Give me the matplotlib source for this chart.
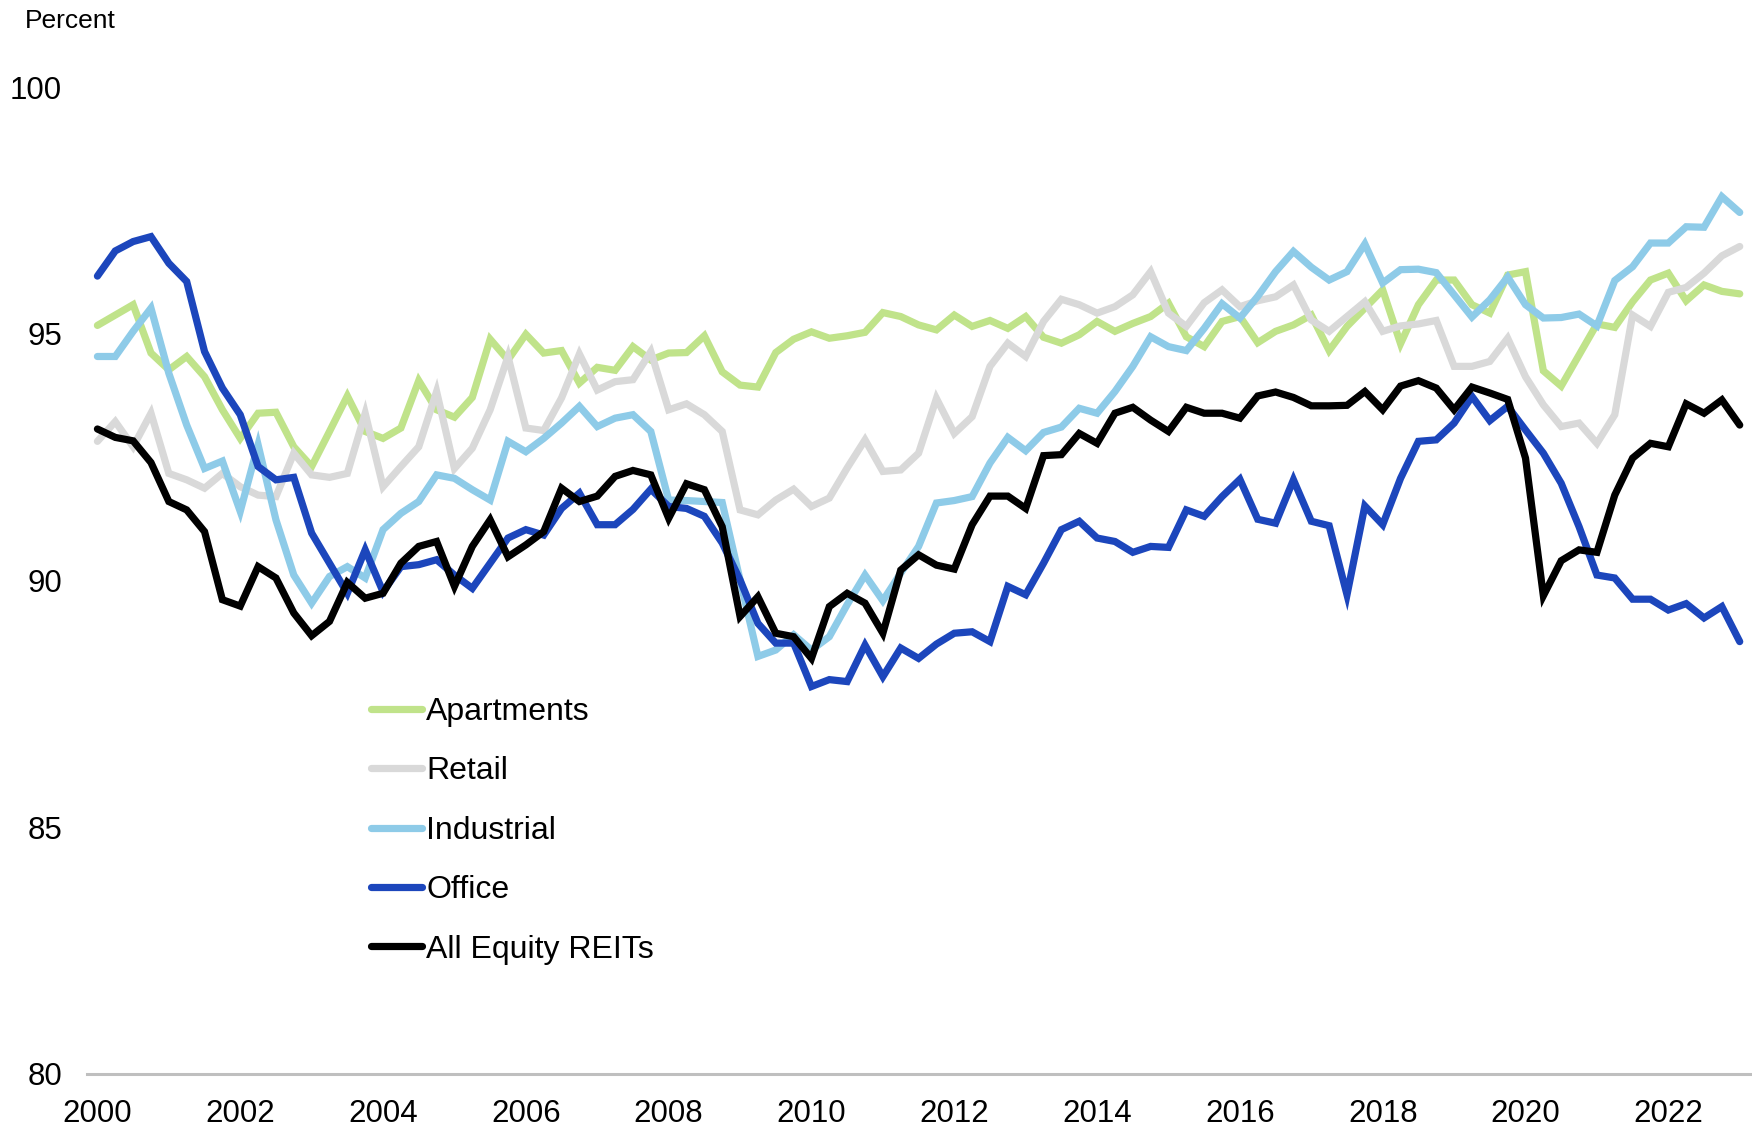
import numpy as np
import matplotlib
matplotlib.use('Agg')
import matplotlib.pyplot as plt

plt.rcParams['font.family'] = ['Liberation Sans', 'DejaVu Sans']

# quarterly occupancy rates, 2000:Q1 - 2023:Q1
apartments = [95.17, 95.38, 95.59, 94.61, 94.27, 94.54, 94.13, 93.46, 92.88, 93.39,
              93.41, 92.71, 92.31, 93.02, 93.74, 93.02, 92.88, 93.09, 94.05, 93.46,
              93.31, 93.71, 94.89, 94.47, 94.99, 94.61, 94.66, 94.00, 94.32, 94.26,
              94.74, 94.47, 94.61, 94.62, 94.96, 94.23, 93.96, 93.92, 94.62, 94.89,
              95.04, 94.91, 94.96, 95.03, 95.43, 95.35, 95.18, 95.08, 95.38, 95.15,
              95.27, 95.11, 95.35, 94.93, 94.81, 94.98, 95.25, 95.05, 95.21, 95.35,
              95.62, 94.94, 94.74, 95.25, 95.35, 94.82, 95.05, 95.18, 95.38, 94.66,
              95.15, 95.52, 95.89, 94.80, 95.59, 96.09, 96.09, 95.59, 95.42, 96.19,
              96.26, 94.25, 93.94, 94.57, 95.20, 95.13, 95.65, 96.09, 96.23, 95.67,
              95.99, 95.86, 95.81]
retail = [92.82, 93.22, 92.71, 93.39, 92.17, 92.04, 91.87, 92.17, 91.90, 91.73,
          91.70, 92.58, 92.14, 92.09, 92.17, 93.39, 91.90, 92.31, 92.71, 93.83,
          92.27, 92.68, 93.46, 94.54, 93.09, 93.04, 93.70, 94.59, 93.86, 94.03,
          94.07, 94.64, 93.46, 93.58, 93.36, 93.02, 91.43, 91.33, 91.63, 91.85,
          91.50, 91.67, 92.28, 92.85, 92.21, 92.24, 92.58, 93.69, 92.98, 93.32,
          94.34, 94.81, 94.54, 95.25, 95.70, 95.59, 95.42, 95.55, 95.79, 96.26,
          95.42, 95.15, 95.63, 95.89, 95.55, 95.67, 95.75, 95.99, 95.28, 95.05,
          95.35, 95.65, 95.05, 95.16, 95.20, 95.27, 94.34, 94.34, 94.44, 94.91,
          94.13, 93.56, 93.12, 93.19, 92.78, 93.36, 95.38, 95.15, 95.84, 95.94,
          96.23, 96.58, 96.77]
industrial = [94.54, 94.54, 95.05, 95.52, 94.20, 93.15, 92.27, 92.42, 91.40, 92.75,
              91.23, 90.11, 89.54, 90.08, 90.28, 90.05, 91.03, 91.36, 91.60, 92.14,
              92.07, 91.84, 91.63, 92.82, 92.61, 92.88, 93.19, 93.53, 93.12, 93.29,
              93.36, 93.02, 91.63, 91.62, 91.60, 91.58, 90.01, 88.46, 88.59, 88.90,
              88.59, 88.86, 89.51, 90.11, 89.59, 90.15, 90.69, 91.57, 91.62, 91.70,
              92.38, 92.90, 92.63, 93.00, 93.11, 93.49, 93.39, 93.83, 94.34, 94.94,
              94.74, 94.66, 95.11, 95.61, 95.32, 95.76, 96.26, 96.67, 96.35, 96.09,
              96.26, 96.82, 96.03, 96.30, 96.31, 96.24, 95.79, 95.34, 95.69, 96.15,
              95.59, 95.32, 95.33, 95.40, 95.16, 96.08, 96.36, 96.84, 96.84, 97.17,
              97.16, 97.78, 97.46]
office = [96.17, 96.68, 96.87, 96.97, 96.43, 96.06, 94.64, 93.90, 93.36, 92.31,
          92.04, 92.09, 90.96, 90.35, 89.74, 90.62, 89.77, 90.28, 90.32, 90.42,
          90.11, 89.84, 90.35, 90.86, 91.03, 90.92, 91.46, 91.77, 91.13, 91.13,
          91.44, 91.85, 91.50, 91.46, 91.30, 90.76, 90.01, 89.13, 88.73, 88.73,
          87.85, 87.99, 87.95, 88.69, 88.05, 88.63, 88.42, 88.71, 88.93, 88.96,
          88.76, 89.88, 89.71, 90.35, 91.03, 91.20, 90.86, 90.79, 90.57, 90.69,
          90.67, 91.43, 91.30, 91.70, 92.05, 91.24, 91.16, 92.04, 91.20, 91.11,
          89.71, 91.51, 91.13, 92.07, 92.82, 92.85, 93.19, 93.73, 93.24, 93.53,
          93.05, 92.58, 91.97, 91.09, 90.11, 90.05, 89.62, 89.62, 89.40, 89.53,
          89.24, 89.47, 88.76]
all_equity = [93.07, 92.90, 92.83, 92.39, 91.60, 91.43, 90.99, 89.61, 89.48, 90.28,
              90.05, 89.34, 88.88, 89.17, 89.96, 89.64, 89.74, 90.35, 90.69, 90.79,
              89.88, 90.69, 91.23, 90.48, 90.72, 90.99, 91.87, 91.60, 91.71, 92.11,
              92.23, 92.14, 91.26, 91.96, 91.84, 91.09, 89.27, 89.67, 88.93, 88.86,
              88.42, 89.47, 89.74, 89.54, 88.93, 90.21, 90.52, 90.31, 90.23, 91.13,
              91.71, 91.71, 91.46, 92.53, 92.55, 92.98, 92.78, 93.39, 93.51, 93.25,
              93.02, 93.51, 93.39, 93.39, 93.29, 93.74, 93.82, 93.71, 93.54, 93.54,
              93.55, 93.83, 93.46, 93.94, 94.05, 93.90, 93.46, 93.92, 93.80, 93.67,
              92.48, 89.69, 90.40, 90.62, 90.57, 91.73, 92.48, 92.78, 92.71, 93.58,
              93.39, 93.66, 93.15]

labels = ['Apartments', 'Retail', 'Industrial', 'Office', 'All Equity REITs']
colors = ['#C0E38A', '#D9D9D9', '#8ECBE8', '#1C46BC', '#000000']
year_ticks = list(range(2000, 2023, 2))
y_ticks = [80, 85, 90, 95, 100]


def main():
    series = [apartments, retail, industrial, office, all_equity]
    x = 2000 + np.arange(len(apartments)) / 4.0

    fig = plt.figure(figsize=(17.52, 11.26), dpi=100)
    ax = fig.add_axes([0.0497, 0.0464, 0.9492, 0.8762])

    for vals, lab, col in zip(series, labels, colors):
        ax.plot(x, vals, color=col, lw=5.2, label=lab,
                solid_capstyle='round', solid_joinstyle='miter')

    ax.set_xlim(2000 - 0.145, 2023.145)
    ax.set_ylim(80, 100)
    ax.set_xticks(year_ticks)
    ax.set_xticklabels([str(y) for y in year_ticks])
    ax.set_yticks(y_ticks)
    ax.tick_params(axis='both', length=0, labelsize=22.5, colors='black')
    ax.tick_params(axis='y', pad=18)
    ax.tick_params(axis='x', pad=18)

    for side in ['top', 'right', 'left']:
        ax.spines[side].set_visible(False)
    ax.spines['bottom'].set_color('#BFBFBF')
    ax.spines['bottom'].set_linewidth(2.2)

    fig.text(0.014, 0.992, 'Percent', fontsize=19, va='top', ha='left')

    leg = ax.legend(loc='upper left', bbox_to_anchor=(0.2115, 0.381),
                    bbox_transform=fig.transFigure, frameon=False,
                    fontsize=23, handlelength=1.62, handletextpad=0.12,
                    labelspacing=0.92, borderpad=0, borderaxespad=0)
    for h in leg.get_lines():
        h.set_solid_capstyle('round')

    fig.savefig('out.png', dpi=100)


if __name__ == '__main__':
    main()
